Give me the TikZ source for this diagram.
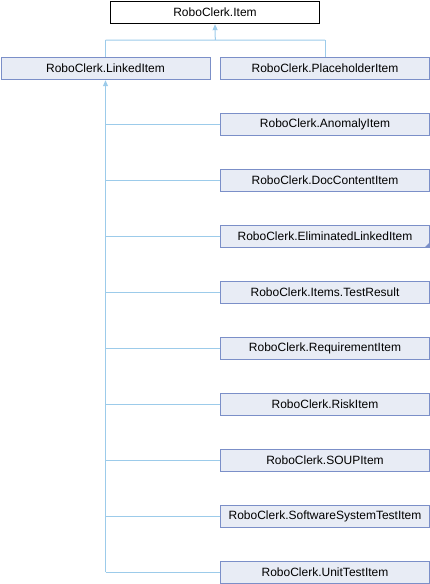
\documentclass[tikz,border=0pt]{standalone}
\usepackage{fontspec}
\setmainfont{Liberation Sans}
\usetikzlibrary{arrows.meta}
\definecolor{boxfill}{HTML}{E8ECF5}
\definecolor{boxdraw}{HTML}{7B8FC8}
\definecolor{linkc}{HTML}{9CCBEA}
\begin{document}
\begin{tikzpicture}[x=1pt,y=-1pt,
  cls/.style={draw=boxdraw,fill=boxfill,line width=1pt,minimum width=209pt,minimum height=22.5pt,inner sep=0pt,font=\fontsize{12}{14}\selectfont,anchor=north west},
  topcls/.style={cls,draw=black,fill=white},
  inh/.style={draw=linkc,line width=1pt},
  arr/.style={-{Triangle[width=5pt,length=6pt,fill=linkc]}}
]
\useasboundingbox (0,0) rectangle (430,584);
\node[topcls] (item) at (110,0.7) {RoboClerk.Item};
\node[cls] (linked) at (0.5,56.7) {RoboClerk.LinkedItem};
\node[cls] (place) at (220,56.7) {RoboClerk.PlaceholderItem};
\foreach \n/\t [count=\k] in {anom/AnomalyItem,doc/DocContentItem,elim/EliminatedLinkedItem,testres/Items.TestResult,req/RequirementItem,risk/RiskItem,soup/SOUPItem,sst/SoftwareSystemTestItem,unit/UnitTestItem}{
  \node[cls] (\n) at (220,56.7+56*\k) {RoboClerk.\t};
}
% corner marker on EliminatedLinkedItem
\fill[boxdraw] ([xshift=-0.5pt,yshift=0.5pt]elim.south east) -- ++(-5,0) -- ++(5,-5) -- cycle;
% top inheritance
\coordinate (j1) at (105.5,40);
\coordinate (j2) at (325,40);
\draw[inh,arr] (j1) -- (j2) (215.3,40) -- (item.south);
\draw[inh] (linked.north -| j1) -- (j1);
\draw[inh] (place.north -| j2) -- (j2);
% linked item children
\draw[inh,arr] (unit.west -| j1) -- (j1 |- linked.south);
\foreach \n in {anom,doc,elim,testres,req,risk,soup,sst,unit}{
  \draw[inh] (\n.west -| j1) -- (\n.west);
}
\end{tikzpicture}
\end{document}
